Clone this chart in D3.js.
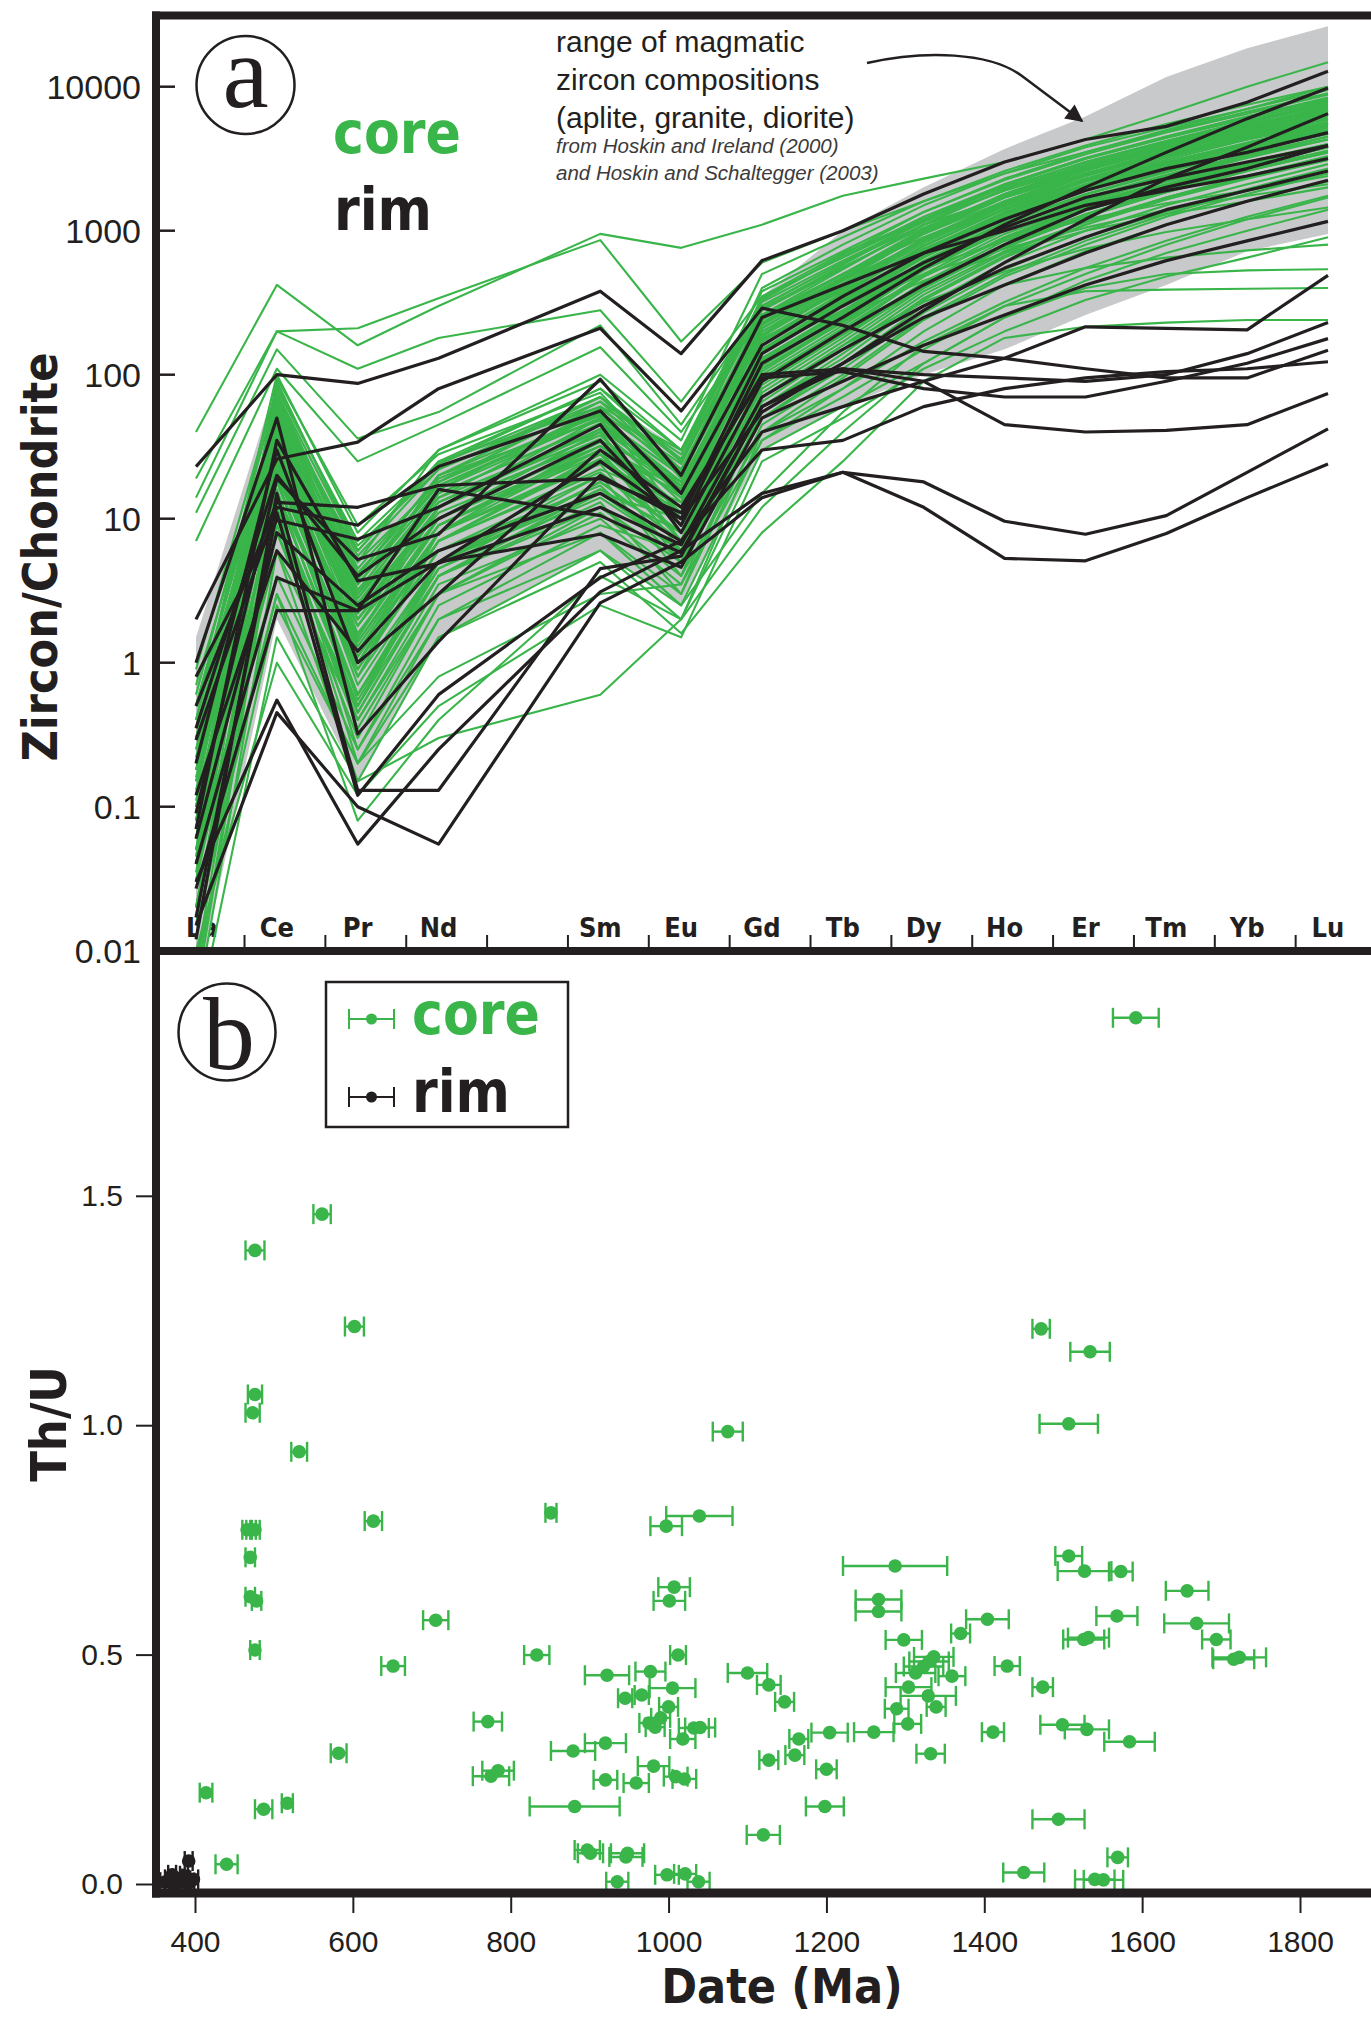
<!DOCTYPE html>
<html>
<head>
<meta charset="utf-8">
<title>Zircon REE patterns and Th/U</title>
<script src="https://d3js.org/d3.v7.min.js"></script>
<style>
  body { margin: 0; background: #fff; }
  svg { display: block; }
</style>
</head>
<body>
<svg width="1371" height="2020"></svg>
<script>
// ---------- panel a data: chondrite normalised REE ----------
// slot 4 (Pm) has no measurement
const elements = ["La", "Ce", "Pr", "Nd", "", "Sm", "Eu", "Gd", "Tb", "Dy", "Ho", "Er", "Tm", "Yb", "Lu"];
const slots = [0, 1, 2, 3, 5, 6, 7, 8, 9, 10, 11, 12, 13, 14];
const yTicksA = [0.01, 0.1, 1, 10, 100, 1000, 10000];

// range of magmatic zircon (Hoskin & Ireland 2000, Hoskin & Schaltegger 2003)
const magmaLow  = [0.005, 2, 0.15, 1.5, 6, 2.5, 30, 60, 100, 150, 260, 420, 720, 950];
const magmaHigh = [1.5, 90, 6, 25, 70, 30, 350, 1000, 2000, 3700, 6200, 11700, 18500, 26300];

// cores  (La Ce Pr Nd Sm Eu Gd Tb Dy Ho Er Tm Yb Lu)
const coreRee = [
  [40, 420, 160, 300, 950, 760, 1100, 1750, 2300, 3000, 4300, 6500, 10000, 14800],
  [19, 200, 210, 340, 860, 170, 600, 1000, 1600, 2500, 3500, 5000, 7000, 10000],
  [14, 200, 110, 180, 280, 65, 350, 700, 1200, 1900, 2800, 4000, 5500, 8000],
  [11, 150, 36, 55, 220, 45, 300, 600, 1100, 1700, 2500, 3400, 4500, 6000],
  [7, 110, 25, 45, 155, 40, 250, 500, 900, 1500, 2200, 3000, 4000, 5000],
  [0.02, 8, 0.3, 3, 12, 5, 60, 130, 330, 650, 1100, 1700, 2400, 3200],
  [0.05, 15, 0.5, 5, 18, 7, 80, 180, 420, 800, 1300, 1900, 2700, 3600],
  [0.1, 25, 0.8, 8, 25, 9, 110, 240, 550, 1000, 1600, 2300, 3300, 4300],
  [0.03, 30, 1.5, 12, 35, 12, 150, 320, 700, 1300, 2000, 2900, 4000, 5300],
  [0.2, 40, 2.5, 15, 45, 15, 190, 400, 850, 1500, 2400, 3400, 4600, 6200],
  [0.5, 60, 4, 20, 60, 20, 240, 500, 1000, 1800, 2800, 3900, 5300, 7000],
  [0.08, 90, 6, 25, 80, 25, 300, 600, 1200, 2100, 3200, 4500, 6200, 8200],
  [0.006, 12, 0.2, 2, 8, 3, 45, 100, 250, 500, 850, 1300, 1900, 2600],
  [0.15, 20, 1.0, 6, 20, 4, 90, 200, 480, 900, 1500, 2100, 2900, 3900],
  [0.3, 35, 2, 10, 30, 6, 130, 280, 620, 1150, 1800, 2600, 3600, 4800],
  [0.06, 50, 3, 14, 40, 8, 170, 360, 780, 1400, 2200, 3100, 4300, 5700],
  [0.015, 70, 5, 18, 55, 10, 210, 450, 950, 1700, 2600, 3700, 5000, 6600],
  [0.4, 100, 8, 30, 90, 30, 330, 680, 1350, 2300, 3500, 4900, 6700, 9000],
  [0.04, 18, 0.6, 4, 15, 10, 70, 160, 380, 720, 1150, 1700, 2350, 3100],
  [0.25, 28, 1.2, 7, 22, 13, 100, 220, 500, 950, 1500, 2200, 3000, 4000],
  [0.07, 45, 2.2, 11, 32, 16, 140, 300, 660, 1200, 1900, 2700, 3800, 5000],
  [0.12, 65, 3.5, 16, 50, 18, 200, 420, 880, 1600, 2500, 3500, 4800, 6400],
  [0.9, 80, 7, 24, 70, 22, 260, 540, 1100, 1950, 3000, 4200, 5700, 7600],
  [0.004, 6, 0.15, 1.5, 6, 2.5, 35, 80, 200, 420, 720, 1100, 1600, 2200],
  [0.03, 10, 0.4, 3.5, 10, 3.5, 55, 120, 300, 600, 1000, 1500, 2100, 2900],
  [0.18, 22, 0.9, 6, 17, 5, 75, 170, 400, 780, 1250, 1850, 2600, 3500],
  [0.35, 38, 1.8, 9, 28, 7, 120, 260, 580, 1080, 1700, 2450, 3400, 4500],
  [0.09, 55, 2.8, 13, 38, 11, 160, 340, 740, 1350, 2100, 3000, 4100, 5500],
  [0.6, 75, 4.5, 19, 52, 14, 220, 460, 960, 1700, 2700, 3800, 5200, 6900],
  [0.045, 95, 9, 28, 75, 19, 280, 580, 1180, 2050, 3150, 4400, 6000, 8000],
  [0.008, 14, 0.25, 2.5, 9, 6, 50, 110, 270, 540, 900, 1350, 1950, 2700],
  [0.11, 24, 0.7, 5, 16, 8, 85, 190, 440, 850, 1380, 2000, 2800, 3800],
  [0.5, 32, 1.4, 8, 26, 11, 115, 250, 560, 1050, 1650, 2400, 3300, 4500],
  [0.07, 42, 2.0, 10, 34, 14, 145, 310, 680, 1250, 1950, 2800, 3900, 5200],
  [0.22, 58, 3.2, 15, 46, 17, 185, 390, 820, 1480, 2300, 3300, 4500, 6000],
  [0.05, 85, 6.5, 22, 65, 21, 240, 500, 1030, 1800, 2800, 3900, 5300, 7100],
  [0.005, 11, 0.35, 3, 11, 4, 40, 95, 240, 480, 800, 1250, 1800, 2500],
  [0.16, 19, 0.55, 4.5, 14, 6, 65, 150, 360, 700, 1150, 1700, 2400, 3300],
  [0.3, 26, 1.1, 7, 21, 8, 95, 210, 480, 900, 1450, 2100, 2950, 4000],
  [0.08, 36, 1.6, 9, 30, 10, 125, 270, 600, 1120, 1780, 2550, 3550, 4700],
  [0.7, 52, 2.6, 13, 42, 13, 175, 370, 790, 1430, 2250, 3200, 4400, 5900],
  [0.03, 68, 4.2, 17, 54, 16, 225, 470, 980, 1750, 2700, 3800, 5200, 7000],
  [0.2, 16, 0.45, 4, 13, 3, 60, 140, 340, 670, 1100, 1650, 2300, 3100],
  [0.13, 33, 1.3, 8, 24, 5, 105, 235, 530, 1000, 1600, 2300, 3200, 4300],
  [0.04, 48, 2.4, 12, 36, 7, 150, 330, 720, 1320, 2050, 2950, 4000, 5400],
  [0.1, 40, 3, 20, 70, 25, 400, 800, 1500, 2500, 3800, 5200, 7000, 9500],
  [0.3, 60, 5, 30, 100, 35, 500, 900, 1600, 2600, 3900, 5500, 7500, 10000],
  [0.06, 30, 2, 12, 50, 20, 350, 650, 1200, 2000, 3000, 4200, 5800, 7800],
  [0.02, 20, 1, 8, 30, 15, 250, 450, 850, 1400, 2100, 2900, 4000, 5200],
  [0.5, 50, 6, 25, 60, 30, 280, 550, 1100, 1700, 2500, 3300, 4300, 5500],
  [0.08, 12, 0.5, 5, 25, 12, 120, 250, 450, 700, 1000, 1300, 1600, 2000],
  [0.2, 20, 1.5, 10, 40, 15, 150, 280, 500, 750, 1050, 1400, 1750, 2100],
  [0.04, 30, 1.2, 8, 35, 18, 180, 320, 550, 850, 1200, 1550, 1900, 2400],
  [0.05, 22, 1.8, 12, 45, 18, 200, 380, 750, 1300, 2000, 2900, 4000, 5500],
  [0.15, 35, 2.5, 14, 55, 22, 260, 500, 950, 1600, 2500, 3600, 5000, 6800],
  [0.02, 15, 0.9, 7, 28, 9, 140, 300, 650, 1200, 1900, 2800, 4000, 5600],
  [0.4, 45, 3.5, 18, 65, 28, 320, 620, 1150, 1900, 2900, 4100, 5600, 7500],
  [0.1, 28, 1.4, 9, 32, 12, 170, 350, 700, 1250, 1950, 2750, 3700, 4900],
  [0.03, 55, 4, 20, 48, 16, 230, 480, 1000, 1750, 2750, 3900, 5400, 7300],
  [0.25, 18, 0.8, 5, 20, 8, 110, 230, 480, 880, 1400, 2050, 2850, 3800],
  [0.06, 40, 2.8, 16, 58, 24, 290, 560, 1050, 1750, 2650, 3700, 5100, 6800],
  [0.012, 9, 0.45, 4, 16, 6, 95, 200, 430, 800, 1300, 1950, 2800, 3800],
  [0.2, 65, 5.5, 22, 70, 26, 340, 660, 1250, 2100, 3200, 4500, 6200, 8400],
  [0.08, 25, 1.1, 7, 26, 10, 130, 270, 560, 1000, 1550, 2200, 3000, 3900],
  [0.5, 48, 3.8, 17, 50, 20, 210, 430, 880, 1550, 2400, 3400, 4700, 6300],
  [0.035, 35, 2.2, 12, 42, 17, 190, 410, 860, 1550, 2450, 3500, 4900, 6600],
  [0.18, 75, 6, 24, 80, 30, 380, 720, 1350, 2250, 3400, 4800, 6500, 8800],
  [0.07, 14, 0.6, 4.5, 18, 7, 90, 190, 400, 760, 1250, 1850, 2600, 3500],
  [0.003, 1.5, 0.15, 0.3, 0.6, 2, 30, 60, 120, 250, 450, 700, 1000, 1400],
  [0.01, 1.0, 0.12, 0.5, 2.5, 1.5, 25, 50, 110, 200, 330, 480, 650, 900],
  [0.008, 2.5, 0.2, 0.8, 3, 3.5, 35, 70, 150, 300, 500, 800, 1200, 1700],
  [0.015, 3, 0.08, 0.4, 4, 2, 40, 80, 170, 320, 550, 850, 1250, 1750],
  [0.02, 3, 0.2, 1.5, 5, 1.6, 8, 25, 90, 180, 215, 230, 240, 240],
  [0.05, 4, 0.25, 2, 6, 2.0, 12, 40, 120, 250, 400, 500, 530, 540],
  [0.04, 6, 0.4, 3, 8, 2.5, 15, 55, 160, 300, 380, 390, 395, 400],
  [0.1, 8, 0.5, 4, 12, 5, 50, 120, 250, 420, 550, 650, 730, 800],
  [0.06, 10, 0.6, 5, 15, 6, 70, 160, 320, 520, 750, 980, 1200, 1450]
];

// rims
const rimRee = [
  [23, 100, 87, 130, 380, 140, 620, 1000, 1800, 3000, 4300, 5300, 7800, 12800],
  [2.0, 26, 34, 80, 210, 56, 290, 220, 145, 130, 110, 95, 95, 148],
  [1.0, 50, 0.32, 1.4, 20, 10, 55, 120, 280, 600, 1200, 2300, 3800, 6500],
  [0.5, 13, 12, 17, 19, 11, 100, 110, 100, 95, 90, 100, 140, 230],
  [0.29, 12, 9, 23, 56, 15, 160, 350, 700, 1200, 1900, 2700, 3500, 4800],
  [0.8, 9.8, 7.2, 12, 45, 8, 90, 200, 420, 800, 1400, 2000, 2700, 3900],
  [0.09, 19, 5.2, 7.8, 93, 20, 250, 420, 700, 1000, 1500, 1900, 2400, 3170],
  [0.07, 35, 3.7, 4.9, 12, 6.6, 70, 150, 300, 550, 900, 1400, 1900, 2600],
  [0.04, 3.9, 2.3, 16, 10.5, 5.8, 60, 120, 250, 420, 700, 1100, 1600, 2240],
  [0.027, 2.3, 2.3, 5, 7.8, 4.6, 50, 90, 160, 260, 420, 620, 850, 1160],
  [0.017, 11, 0.12, 0.6, 3.9, 7, 30, 35, 60, 80, 95, 105, 110, 123],
  [0.015, 0.45, 0.1, 0.055, 2.6, 5, 14, 21, 12, 5.3, 5.1, 7.9, 14, 24],
  [0.03, 0.55, 0.055, 0.25, 3.1, 6, 15, 21, 18, 9.6, 7.8, 10.5, 21, 42],
  [0.012, 15, 0.13, 0.13, 4.5, 5.5, 60, 110, 90, 45, 40, 41, 45, 74],
  [0.2, 30, 1.0, 3, 30, 12, 95, 105, 80, 70, 70, 90, 120, 178],
  [0.06, 8, 2.5, 6, 15, 7, 40, 60, 90, 130, 215, 210, 205, 490],
  [0.35, 20, 4, 10, 35, 9, 120, 250, 550, 1100, 2000, 3500, 6000, 9800],
  [0.12, 6, 1.2, 5, 25, 10, 140, 300, 600, 1050, 1700, 2300, 3000, 3900]
];

// ---------- panel b data: [date (Ma), Th/U, 2s error (Ma)] ----------
const xTicksB = [400, 600, 800, 1000, 1200, 1400, 1600, 1800];
const yTicksB = [0, 0.5, 1.0, 1.5];

const corePts = [
  [1592, 1.888, 29], [561, 1.46, 11], [476, 1.381, 12], [602, 1.215, 12], [1472, 1.21, 11],
  [1534, 1.16, 25], [476, 1.067, 9], [473, 1.027, 9], [1507, 1.003, 37], [1075, 0.986, 19],
  [532, 0.942, 10], [851, 0.809, 7], [1039, 0.802, 42], [997, 0.78, 20], [626, 0.791, 11],
  [466, 0.772, 6], [471, 0.772, 6], [476, 0.772, 6], [470, 0.712, 6], [1007, 0.647, 20],
  [1001, 0.617, 20], [470, 0.626, 6], [478, 0.617, 6], [705, 0.575, 16], [476, 0.51, 6],
  [833, 0.499, 16], [1012, 0.499, 10], [651, 0.475, 15], [922, 0.455, 28], [977, 0.463, 19],
  [1100, 0.46, 25], [1127, 0.434, 15], [1005, 0.427, 29], [945, 0.405, 9], [966, 0.412, 9],
  [1000, 0.386, 12], [990, 0.362, 12], [975, 0.351, 12], [983, 0.342, 12], [1032, 0.34, 19],
  [1040, 0.341, 19], [1018, 0.316, 16], [771, 0.354, 18], [879, 0.29, 28], [920, 0.307, 26],
  [582, 0.285, 10], [775, 0.235, 23], [784, 0.247, 20], [981, 0.257, 20], [920, 0.227, 15],
  [959, 0.22, 16], [1009, 0.234, 15], [1020, 0.229, 15], [414, 0.199, 8], [487, 0.163, 11],
  [517, 0.176, 7], [881, 0.169, 57], [1120, 0.107, 21], [897, 0.074, 16], [901, 0.067, 16],
  [948, 0.067, 21], [946, 0.059, 21], [440, 0.043, 14], [935, 0.005, 14], [998, 0.02, 15],
  [1021, 0.022, 14], [1038, 0.005, 14],
  [1507, 0.715, 17], [1527, 0.682, 34], [1573, 0.681, 15], [1287, 0.693, 66], [1657, 0.639, 27],
  [1266, 0.62, 29], [1266, 0.594, 29], [1568, 0.584, 26], [1669, 0.568, 41], [1404, 0.577, 27],
  [1370, 0.546, 12], [1526, 0.533, 26], [1532, 0.537, 26], [1694, 0.533, 18], [1716, 0.49, 26],
  [1723, 0.494, 34], [1298, 0.532, 23], [1336, 0.495, 25], [1330, 0.485, 25], [1323, 0.474, 25],
  [1313, 0.46, 25], [1359, 0.453, 17], [1429, 0.475, 16], [1304, 0.429, 29], [1329, 0.41, 35],
  [1289, 0.382, 15], [1339, 0.386, 12], [1303, 0.349, 17], [1474, 0.429, 13], [1499, 0.347, 28],
  [1530, 0.337, 28], [1584, 0.31, 32], [1411, 0.331, 14], [1332, 0.284, 18], [1204, 0.33, 23],
  [1260, 0.331, 25], [1200, 0.25, 13], [1165, 0.316, 12], [1160, 0.281, 12], [1127, 0.27, 12],
  [1147, 0.397, 12], [1198, 0.169, 24], [1494, 0.141, 33], [1569, 0.058, 13], [1450, 0.025, 26],
  [1540, 0.01, 25], [1551, 0.009, 25]
];

const rimPts = [
  [392, 0.05, 5], [362, 0.004, 6], [368, 0.01, 6], [373, 0.002, 6], [378, 0.012, 6],
  [383, 0.004, 6], [388, 0.008, 6], [393, 0.003, 6], [398, 0.01, 6], [371, 0.02, 5], [386, 0.018, 5]
];

// ---------- drawing ----------
const INK = "#231f20", GREEN = "#39b54a", GREY = "#c8c9cb";
const COND = "'DejaVu Sans Condensed', 'DejaVu Sans', sans-serif";
const SANS = "'Liberation Sans', Arial, sans-serif";
const SERIF = "'Liberation Serif', 'DejaVu Serif', serif";

const svg = d3.select("svg");
const defs = svg.append("defs");
defs.append("clipPath").attr("id", "clipA")
  .append("rect").attr("x", 160).attr("y", 19).attr("width", 1211).attr("height", 928);
defs.append("clipPath").attr("id", "clipB")
  .append("rect").attr("x", 156).attr("y", 955).attr("width", 1215).attr("height", 940);
defs.append("marker").attr("id", "ah")
  .attr("viewBox", "0 0 10 10").attr("refX", 9).attr("refY", 5)
  .attr("markerWidth", 9).attr("markerHeight", 7).attr("orient", "auto")
  .append("path").attr("d", "M0,0 L10,5 L0,10 z").attr("fill", INK);

// ===== panel a =====
const xA = d3.scaleLinear().domain([0, 14]).range([196, 1328]);
const yA = d3.scaleLog().domain([0.01, 10000]).range([950.7, 86.7]);

const gA = svg.append("g");

// category labels (drawn under the lines)
gA.selectAll("text.el").data(elements).enter().append("text")
  .attr("x", (d, i) => xA(i) + (i === 0 ? 6 : 0)).attr("y", 937)
  .attr("text-anchor", "middle")
  .style("font-family", COND).style("font-weight", "bold").style("font-size", "27px")
  .attr("fill", INK).text(d => d);

// category ticks
gA.selectAll("line.ct").data(d3.range(14)).enter().append("line")
  .attr("x1", k => xA(k + 0.6)).attr("x2", k => xA(k + 0.6))
  .attr("y1", 935).attr("y2", 948).attr("stroke", INK).attr("stroke-width", 2);

const plotA = gA.append("g").attr("clip-path", "url(#clipA)");

const band = d3.area()
  .x((d, i) => xA(slots[i]))
  .y0((d, i) => yA(magmaLow[i]))
  .y1((d, i) => yA(magmaHigh[i]));
plotA.append("path").datum(d3.range(14)).attr("d", band).attr("fill", GREY);

const reeLine = d3.line().x((d, i) => xA(slots[i])).y(d => yA(d));

plotA.append("g").selectAll("path").data(coreRee).enter().append("path")
  .attr("d", reeLine).attr("fill", "none")
  .attr("stroke", GREEN).attr("stroke-width", 2.1).attr("stroke-linejoin", "round");

plotA.append("g").selectAll("path").data(rimRee).enter().append("path")
  .attr("d", reeLine).attr("fill", "none")
  .attr("stroke", INK).attr("stroke-width", 3.2).attr("stroke-linejoin", "round");

// y axis a (ticks point inward)
gA.selectAll("line.yt").data(yTicksA).enter().append("line")
  .attr("x1", 158).attr("x2", 175).attr("y1", d => yA(d)).attr("y2", d => yA(d))
  .attr("stroke", INK).attr("stroke-width", 2.5);
gA.selectAll("text.yl").data(yTicksA).enter().append("text")
  .attr("x", 141).attr("y", d => yA(d)).attr("dy", "0.36em")
  .attr("text-anchor", "end")
  .style("font-family", SANS).style("font-size", "34px")
  .attr("fill", INK).text(d => d < 1 ? d : d3.format("d")(d));

gA.append("text")
  .attr("transform", "translate(57,557) rotate(-90)")
  .attr("text-anchor", "middle")
  .style("font-family", COND).style("font-weight", "bold").style("font-size", "48px")
  .attr("fill", INK).text("Zircon/Chondrite");

// panel letter a
gA.append("circle").attr("cx", 245.5).attr("cy", 85).attr("r", 49)
  .attr("fill", "none").attr("stroke", INK).attr("stroke-width", 2.5);
gA.append("text").attr("x", 245.5).attr("y", 107).attr("text-anchor", "middle")
  .style("font-family", SERIF).style("font-size", "104px").attr("fill", INK).text("a");

gA.append("text").attr("x", 333).attr("y", 153)
  .style("font-family", COND).style("font-weight", "bold").style("font-size", "58px")
  .attr("fill", GREEN).text("core");
gA.append("text").attr("x", 334).attr("y", 230)
  .style("font-family", COND).style("font-weight", "bold").style("font-size", "58px")
  .attr("fill", INK).text("rim");

// annotation
const note = ["range of magmatic", "zircon compositions", "(aplite, granite, diorite)"];
gA.selectAll("text.note").data(note).enter().append("text")
  .attr("x", 556).attr("y", (d, i) => 52 + i * 38)
  .style("font-family", SANS).style("font-size", "30px")
  .attr("fill", INK).text(d => d);
const refs = ["from Hoskin and Ireland (2000)", "and Hoskin and Schaltegger (2003)"];
gA.selectAll("text.ref").data(refs).enter().append("text")
  .attr("x", 556).attr("y", (d, i) => 153 + i * 27)
  .style("font-family", SANS).style("font-style", "italic").style("font-size", "20.5px")
  .attr("fill", "#3c3a3b").text(d => d);
gA.append("path")
  .attr("d", "M867,63 C925,50 990,52 1022,76 L1082,121")
  .attr("fill", "none").attr("stroke", INK).attr("stroke-width", 2.5)
  .attr("marker-end", "url(#ah)");

// ===== panel b =====
const xB = d3.scaleLinear().domain([400, 1800]).range([195, 1300]);
const yB = d3.scaleLinear().domain([0, 1.5]).range([1884, 1195.8]);

const gB = svg.append("g");
const plotB = gB.append("g").attr("clip-path", "url(#clipB)");

function errorBars(g, pts, color) {
  const s = g.selectAll("g").data(pts).enter().append("g")
    .attr("stroke", color).attr("fill", color);
  s.append("line")
    .attr("x1", d => xB(d[0] - d[2])).attr("x2", d => xB(d[0] + d[2]))
    .attr("y1", d => yB(d[1])).attr("y2", d => yB(d[1])).attr("stroke-width", 2.4);
  s.append("line")
    .attr("x1", d => xB(d[0] - d[2])).attr("x2", d => xB(d[0] - d[2]))
    .attr("y1", d => yB(d[1]) - 10).attr("y2", d => yB(d[1]) + 10).attr("stroke-width", 2.4);
  s.append("line")
    .attr("x1", d => xB(d[0] + d[2])).attr("x2", d => xB(d[0] + d[2]))
    .attr("y1", d => yB(d[1]) - 10).attr("y2", d => yB(d[1]) + 10).attr("stroke-width", 2.4);
  s.append("circle")
    .attr("cx", d => xB(d[0])).attr("cy", d => yB(d[1])).attr("r", 6.8).attr("stroke", "none");
}
errorBars(plotB.append("g"), corePts, GREEN);
errorBars(plotB.append("g"), rimPts, INK);

// axes b
const axB = gB.append("g").attr("transform", "translate(0,1897)")
  .call(d3.axisBottom(xB).tickValues(xTicksB).tickSize(16).tickPadding(18).tickFormat(d3.format("d")));
axB.select(".domain").remove();
axB.selectAll("line").attr("stroke", INK).attr("stroke-width", 2);
axB.selectAll("text").style("font-family", SANS).style("font-size", "30px").attr("fill", INK);

const ayB = gB.append("g").attr("transform", "translate(152,0)")
  .call(d3.axisLeft(yB).tickValues(yTicksB).tickSize(16).tickPadding(13).tickFormat(d3.format(".1f")));
ayB.select(".domain").remove();
ayB.selectAll("line").attr("stroke", INK).attr("stroke-width", 2);
ayB.selectAll("text").style("font-family", SANS).style("font-size", "30px").attr("fill", INK);

gB.append("text")
  .attr("transform", "translate(66,1424) rotate(-90)")
  .attr("text-anchor", "middle")
  .style("font-family", COND).style("font-weight", "bold").style("font-size", "50px")
  .attr("fill", INK).text("Th/U");
gB.append("text").attr("x", 782).attr("y", 2003).attr("text-anchor", "middle")
  .style("font-family", COND).style("font-weight", "bold").style("font-size", "48px")
  .attr("fill", INK).text("Date (Ma)");

// panel letter b
gB.append("circle").attr("cx", 227).attr("cy", 1032).attr("r", 48.5)
  .attr("fill", "none").attr("stroke", INK).attr("stroke-width", 2.5);
gB.append("text").attr("x", 229).attr("y", 1069).attr("text-anchor", "middle")
  .style("font-family", SERIF).style("font-size", "104px").attr("fill", INK).text("b");

// legend
gB.append("rect").attr("x", 326).attr("y", 982).attr("width", 242).attr("height", 145)
  .attr("fill", "#fff").attr("stroke", INK).attr("stroke-width", 2.5);
const legend = [{ label: "core", color: GREEN, y: 1019 }, { label: "rim", color: INK, y: 1097 }];
legend.forEach(l => {
  const g = gB.append("g").attr("stroke", l.color);
  g.append("line").attr("x1", 349).attr("x2", 394).attr("y1", l.y).attr("y2", l.y).attr("stroke-width", 2);
  g.append("line").attr("x1", 349).attr("x2", 349).attr("y1", l.y - 10).attr("y2", l.y + 10).attr("stroke-width", 2);
  g.append("line").attr("x1", 394).attr("x2", 394).attr("y1", l.y - 10).attr("y2", l.y + 10).attr("stroke-width", 2);
  g.append("circle").attr("cx", 371.5).attr("cy", l.y).attr("r", 5.5).attr("fill", l.color).attr("stroke", "none");
  gB.append("text").attr("x", 412).attr("y", l.y + 15)
    .style("font-family", COND).style("font-weight", "bold").style("font-size", "58px")
    .attr("fill", l.color).text(l.label);
});

// ===== frames =====
const frame = svg.append("g").attr("stroke", INK).attr("fill", "none");
frame.append("line").attr("x1", 152).attr("x2", 1371).attr("y1", 15.5).attr("y2", 15.5).attr("stroke-width", 8);
frame.append("line").attr("x1", 152).attr("x2", 1371).attr("y1", 951).attr("y2", 951).attr("stroke-width", 8);
frame.append("line").attr("x1", 152).attr("x2", 1371).attr("y1", 1893).attr("y2", 1893).attr("stroke-width", 9);
frame.append("line").attr("x1", 156).attr("x2", 156).attr("y1", 11.5).attr("y2", 1897.5).attr("stroke-width", 8);
</script>
</body>
</html>
